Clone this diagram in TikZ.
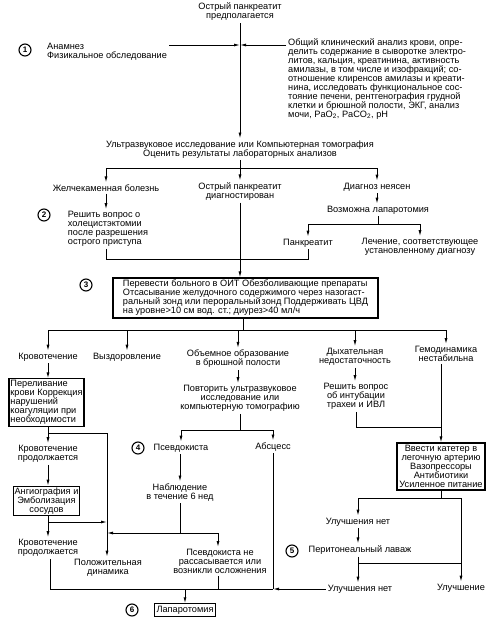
\documentclass[tikz,border=0pt]{standalone}
\usepackage{fontspec}
\setmainfont{Liberation Sans}
\usetikzlibrary{arrows.meta}
\newcommand\fsz{\fontsize{9.2pt}{9pt}\selectfont}
\begin{document}
\begin{tikzpicture}[x=1pt,y=-1pt,
  t/.style={font=\fsz, align=center, inner sep=2pt},
  tl/.style={font=\fsz, align=left, inner sep=2pt},
  bx/.style={draw, line width=1.1pt, font=\fsz, inner sep=1.5pt},
  num/.style={circle, draw, line width=1.1pt, minimum size=12pt, inner sep=0pt, font=\bfseries\fontsize{8pt}{8pt}\selectfont},
  ln/.style={line width=0.9pt},
  arr/.style={ln, -{Latex[length=6pt,width=3pt]}},
]
\useasboundingbox[fill=white] (0,0) rectangle (493,624);
% --- top
\node[t] (t0) at (240,12) {Острый панкреатит\\предполагается};
\node[tl, anchor=west] (a1) at (45,52) {Анамнез\\Физикальное обследование};
\node[num] (c1) at (25,50) {1};
\node[tl, anchor=west] (lab) at (286,79) {Общий клинический анализ крови, опре-\\
делить содержание в сыворотке электро-\\
литов, кальция, креатинина, активность\\
амилазы, в том числе и изофракций; со-\\
отношение клиренсов амилазы и креати-\\
нина, исследовать функциональное сос-\\
тояние печени, рентгенография грудной\\
клетки и брюшной полости, ЭКГ, анализ\\
мочи, PaO\textsubscript{2}, PaCO\textsubscript{2}, pH};
\coordinate (m1) at (240,45);
\node[t] (us) at (240,149.5) {Ультразвуковое исследование или Компьютерная томография\\Оценить результаты лабораторных анализов};
\draw[arr] (t0.south) -- (us.north);
\draw[arr] (a1.east |- m1) -- (m1);
\draw[arr] (lab.west |- m1) -- (m1);
% --- second level
\coordinate (b1) at (240,168);
\node[t] (gb) at (106,188) {Желчекаменная болезнь};
\node[t] (op) at (240,191.5) {Острый панкреатит\\диагностирован};
\node[t] (dn) at (377,187) {Диагноз неясен};
\draw[ln] (us.south) -- (b1);
\draw[ln] (gb.north |- b1) -- (dn.north |- b1);
\draw[arr] (gb.north |- b1) -- (gb.north);
\draw[arr] (b1) -- (op.north);
\draw[arr] (dn.north |- b1) -- (dn.north);
\node[tl] (r2) at (108,229) {Решить вопрос о\\холецистэктомии\\после разрешения\\острого приступа};
\node[num] (c2) at (44,215) {2};
\draw[arr] (gb.south) -- (gb.south |- r2.north);
\node[t] (vl) at (378,210) {Возможна лапаротомия};
\draw[arr] (dn.south) -- (dn.south |- vl.north);
\coordinate (b2) at (378,224);
\node[t] (pk) at (308,243) {Панкреатит};
\node[t] (le) at (420,247) {Лечение, соответствующее\\установленному диагнозу};
\draw[ln] (vl.south) -- (b2);
\draw[ln] (pk.north |- b2) -- (le.north |- b2);
\draw[arr] (pk.north |- b2) -- (pk.north);
\draw[arr] (le.north |- b2) -- (le.north);
\coordinate (j1) at (240,259);
\draw[ln] (r2.south -| gb) -- (gb |- j1) -- (pk.south |- j1) -- (pk.south);
% --- box 3
\node[bx, align=left, minimum width=265pt, minimum height=40pt] (b3x) at (245.5,298) {Перевести больного в ОИТ Обезболивающие препараты\\
Отсасывание желудочного содержимого через назогаст-\\
ральный зонд или пероральный\hspace{1pt}зонд Поддерживать ЦВД\\
на уровне>10 см вод. ст.; диурез>40 мл/ч};
\draw[arr] (op.south) -- (op.south |- b3x.north);
\node[num] (c3) at (86,285) {3};
\coordinate (b3) at (243,330);
\draw[ln] (b3x.south -| b3) -- (b3);
\node[t] (kr) at (48,357) {Кровотечение};
\node[t] (vy) at (127,357) {Выздоровление};
\node[t] (ob) at (238,359) {Объемное образование\\в брюшной полости};
\node[t] (dy) at (355,357) {Дыхательная\\недостаточность};
\node[t] (ge) at (446,354) {Гемодинамика\\нестабильна};
\draw[ln] (kr.north |- b3) -- (ge.north |- b3);
\foreach \n in {kr,vy,ob,dy,ge} \draw[arr] (\n.north |- b3) -- (\n.north);
% --- left column
\node[bx, align=left] (bk) at (46.5,402.5) {Переливание\\крови Коррекция\\нарушений\\коагуляции при\\необходимости};
\draw[arr] (kr.south) -- (kr.south |- bk.north);
\node[t] (kp1) at (48,454) {Кровотечение\\продолжается};
\draw[arr] (bk.south -| kr) -- (kp1.north);
\coordinate (j2) at (48,433);
\coordinate (pdt) at (107,433);
\node[t] (pd) at (108,567.5) {Положительная\\динамика};
\draw[ln] (j2) -- (pdt);
\draw[arr] (pdt) -- (pdt |- pd.north);
\node[bx, align=center] (ba) at (46.5,501) {Ангиография и\\Эмболизация\\сосудов};
\draw[arr] (kp1.south) -- (ba.north -| kp1);
\node[t] (kp2) at (48,548) {Кровотечение\\продолжается};
\draw[arr] (ba.south -| kp2) -- (kp2.north);
\coordinate (j4) at (48,522);
\draw[arr] (j4) -- (pdt |- j4);
\coordinate (bl) at (50,589);
\coordinate (br) at (273,589);
\draw[ln] (kp2.south -| bl) -- (bl) -- (br);
% --- middle column
\node[t] (po) at (240,398.5) {Повторить ультразвуковое\\исследование или\\компьютерную томографию};
\draw[arr] (ob.south) -- (ob.south |- po.north);
\coordinate (b4) at (240,430);
\node[t] (ps) at (181,448) {Псевдокиста};
\node[t] (ab) at (273,447) {Абсцесс};
\node[num] (c4) at (138,448) {4};
\draw[ln] (po.south) -- (b4);
\draw[ln] (ps.north |- b4) -- (ab.north |- b4);
\draw[arr] (ps.north |- b4) -- (ps.north);
\draw[arr] (ab.north |- b4) -- (ab.north);
\node[t] (nb) at (180,492.5) {Наблюдение\\в течение 6 нед};
\draw[arr] (ps.south -| nb) -- (nb.north);
\coordinate (b5) at (180,533);
\coordinate (b5r) at (218,533);
\node[t] (pn) at (220,561.5) {Псевдокиста не\\рассасывается или\\возникли осложнения};
\draw[ln] (nb.south) -- (b5);
\draw[arr] (b5) -- (pdt |- b5);
\draw[ln] (b5) -- (b5r);
\draw[arr] (b5r) -- (b5r |- pn.north);
\draw[ln] (pn.south -| b5r) -- (b5r |- bl);
\draw[ln] (ab.south) -- (br);
\node[bx, inner sep=2pt] (lap) at (185,610) {Лапаротомия};
\node[num] (c6) at (132,610) {6};
\draw[arr] (lap.north |- bl) -- (lap.north);
% --- right column
\node[t] (rv) at (356,396.5) {Решить вопрос\\об интубации\\трахеи и ИВЛ};
\draw[arr] (dy.south) -- (dy.south |- rv.north);
\node[bx, align=center, minimum width=88pt, minimum height=47pt] (brx) at (441,466.5) {Ввести катетер в\\легочную артерию\\Вазопрессоры\\Антибиотики\\Усиленное питание};
\coordinate (j3) at (441,427);
\draw[ln] (rv.south) -- (rv.south |- j3) -- (j3);
\draw[arr] (ge.south -| brx) -- (brx.north);
\coordinate (b6) at (441,498);
\node[t] (un1) at (358,522) {Улучшения нет};
\node[t] (pl) at (360,550) {Перитонеальный лаваж};
\node[num] (c5) at (292,551) {5};
\node[t] (un2) at (360,589) {Улучшения нет};
\node[t] (ul) at (461,588) {Улучшение};
\draw[ln] (brx.south) -- (b6);
\draw[ln] (un1.north |- b6) -- (ul.north |- b6);
\draw[arr] (un1.north |- b6) -- (un1.north);
\draw[arr] (ul.north |- b6) -- (ul.north);
\draw[arr] (un1.south) -- (un1.south |- pl.north);
\coordinate (b7) at (358,563);
\draw[ln] (pl.south -| b7) -- (b7) -- (b7 -| ul);
\draw[arr] (b7) -- (b7 |- un2.north);
\draw[arr] (un2.west) -- (br);
\end{tikzpicture}
\end{document}
